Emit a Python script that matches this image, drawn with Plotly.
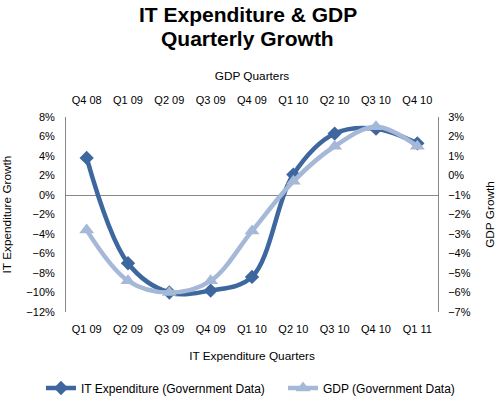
import plotly.graph_objects as go

it_quarters = ['Q1 09', 'Q2 09', 'Q3 09', 'Q4 09', 'Q1 10', 'Q2 10', 'Q3 10', 'Q4 10', 'Q1 11']
gdp_quarters = ['Q4 08', 'Q1 09', 'Q2 09', 'Q3 09', 'Q4 09', 'Q1 10', 'Q2 10', 'Q3 10', 'Q4 10']

it_growth = [3.8, -7.0, -10.0, -9.8, -8.4, 2.1, 6.3, 6.8, 5.3]
gdp_growth = [-2.8, -5.4, -6.0, -5.4, -2.85, -0.3, 1.5, 2.5, 1.5]

title_lines = ['IT Expenditure & GDP', 'Quarterly Growth']

dark = '#3D679E'
light = '#A6B8D7'
font = 'Liberation Sans, Arial, sans-serif'

fig = go.Figure()
fig.add_trace(go.Scatter(
    x=it_quarters, y=it_growth, name='IT Expenditure (Government Data)',
    mode='lines+markers', line=dict(color=dark, width=4.5, shape='spline', smoothing=1.0),
    marker=dict(symbol='diamond', size=11, color=dark),
    xaxis='x', yaxis='y', legend='legend'))
fig.add_trace(go.Scatter(
    x=gdp_quarters, y=gdp_growth, name='GDP (Government Data)',
    mode='lines+markers', line=dict(color=light, width=4.5, shape='spline', smoothing=1.0),
    marker=dict(symbol='triangle-up', size=13, color=light),
    xaxis='x2', yaxis='y2', legend='legend2'))

title_font = dict(size=11.8, family=font)
legend_common = dict(orientation='h', xref='container', yref='container',
                     y=0.03, yanchor='middle', xanchor='left',
                     font=dict(size=12), itemwidth=30)

fig.update_layout(
    width=498, height=400,
    margin=dict(l=66, r=60, t=117, b=88),
    paper_bgcolor='white', plot_bgcolor='white',
    font=dict(family=font, size=11, color='black'),
    xaxis=dict(type='category', categoryorder='array', categoryarray=it_quarters,
               range=[-0.5, 8.5], showgrid=False, showline=False, ticks='',
               automargin=False, ticklabelstandoff=9,
               title=dict(text='IT Expenditure Quarters', standoff=17, font=title_font)),
    xaxis2=dict(type='category', categoryorder='array', categoryarray=gdp_quarters,
                range=[-0.5, 8.5], overlaying='x', side='top', showgrid=False,
                showline=False, ticks='', automargin=False, ticklabelstandoff=10,
                title=dict(text='GDP Quarters', standoff=10, font=title_font)),
    yaxis=dict(range=[-12, 8], dtick=2, ticksuffix='%', showgrid=False,
               showline=True, linecolor='#888888', linewidth=1, ticks='',
               zeroline=True, zerolinecolor='#888888', zerolinewidth=1,
               automargin=False, ticklabelstandoff=8,
               title=dict(text='IT Expenditure Growth', standoff=16, font=title_font)),
    yaxis2=dict(range=[-7, 3], dtick=1, ticksuffix='%', overlaying='y', side='right',
                showgrid=False, showline=True, linecolor='#888888', linewidth=1,
                ticks='', zeroline=False, automargin=False, ticklabelstandoff=7,
                title=dict(text='GDP Growth', standoff=15, font=title_font)),
    legend=dict(legend_common, x=41 / 498),
    legend2=dict(legend_common, x=283 / 498),
    showlegend=True,
)

# title as two lines, tighter line spacing than plotly's default
for text, y in zip(title_lines, [1.528, 1.405]):
    fig.add_annotation(text='<b>' + text + '</b>', xref='paper', yref='paper',
                       x=0.489, y=y, xanchor='center', yanchor='middle',
                       showarrow=False, font=dict(size=21, family=font))

# drop the browser's default 8px body margin so the figure fills the window
fig.write_html('out.html', config={'displayModeBar': False},
               post_script="document.body.style.margin = '0';")
